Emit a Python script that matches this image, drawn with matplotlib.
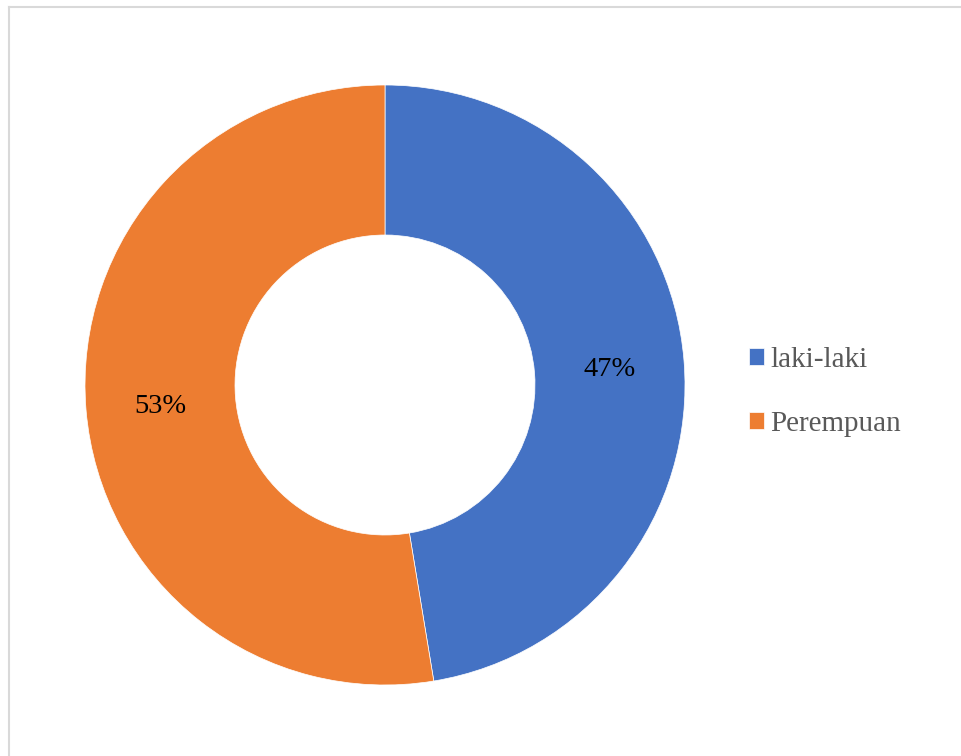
import matplotlib
matplotlib.use("Agg")
import matplotlib.pyplot as plt
from matplotlib.lines import Line2D

categories = ["laki-laki", "Perempuan"]
values = [47.4, 52.6]
colors = ["#4472C4", "#ED7D31"]

W, H = 962, 756
fig = plt.figure(figsize=(W / 100, H / 100), dpi=100)
fig.patch.set_facecolor("white")

cx, cy, r = 385, 385, 300
ax = fig.add_axes([(cx - r) / W, (H - cy - r) / H, 2 * r / W, 2 * r / H])
ax.set_xlim(-1, 1)
ax.set_ylim(-1, 1)
ax.axis("off")

wedges, texts, autotexts = ax.pie(
    values, colors=colors, startangle=90, counterclock=False, radius=1,
    wedgeprops=dict(width=0.5, edgecolor="white", linewidth=0.5),
    autopct=lambda p: f"{p:.0f}%", pctdistance=0.75,
    textprops=dict(fontsize=20.5, family="Liberation Serif", color="black"),
)
for t in autotexts:
    t.set_va("center_baseline")
ax.set_xlim(-1, 1)
ax.set_ylim(-1, 1)

fig.legend(wedges, categories, loc="center left",
           bbox_to_anchor=(749 / W, 1 - 392 / H), frameon=False,
           prop=dict(family="Liberation Serif", size=21),
           labelcolor="#595959", handlelength=0.51, handleheight=0.51,
           handletextpad=0.22, labelspacing=1.3, borderpad=0, borderaxespad=0)

# chart frame
fc = "#d9d9d9"
fig.add_artist(Line2D([8.5 / W, 8.5 / W], [0, 1 - 6.5 / H], color=fc, lw=1.5, transform=fig.transFigure))
fig.add_artist(Line2D([8.5 / W, 1], [1 - 6.5 / H, 1 - 6.5 / H], color=fc, lw=1.5, transform=fig.transFigure))

fig.savefig("out.png", dpi=100, facecolor="white")
